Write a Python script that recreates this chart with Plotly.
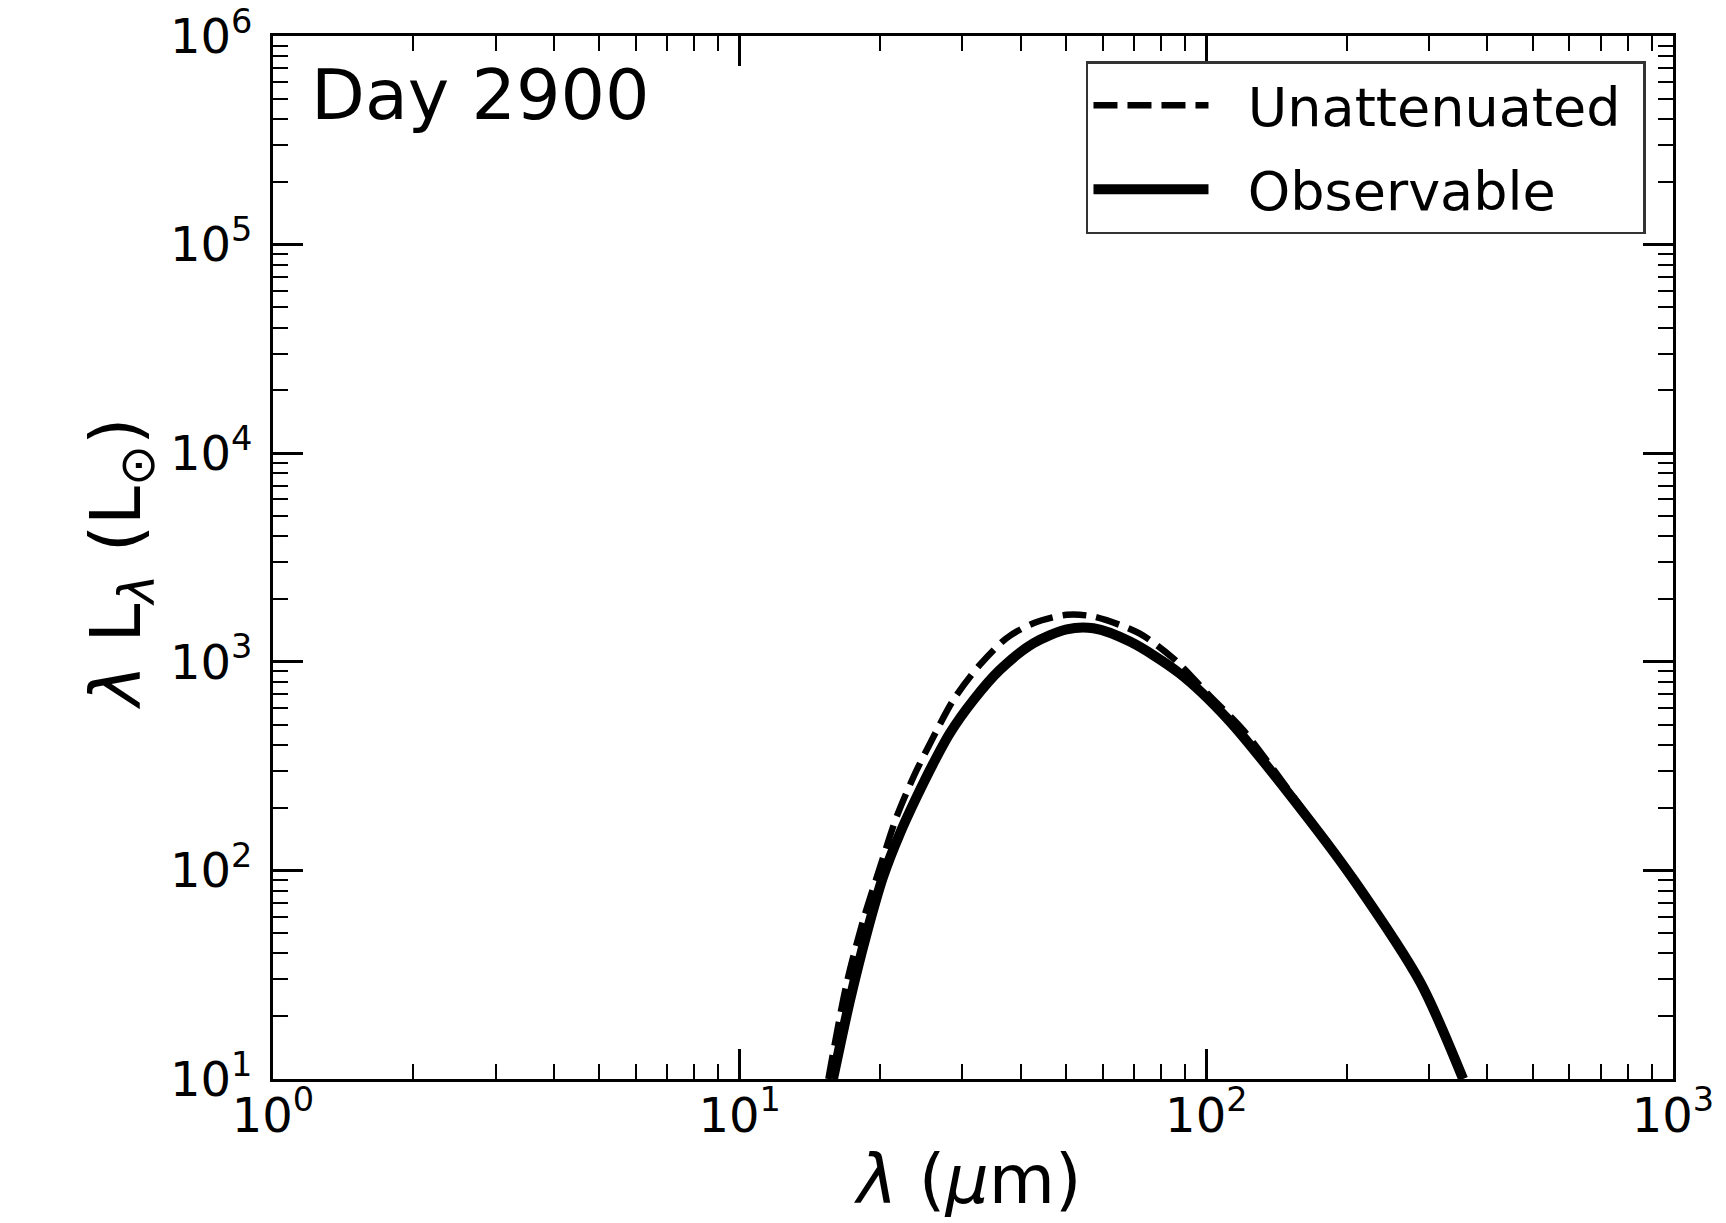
import plotly.graph_objects as go

# Observable (solid) curve
obs_x = [15.85, 17.24, 18.72, 20.3, 22.06, 23.95, 26.0, 28.2, 31.7, 36.1, 42.6, 50.2, 57.3, 68.6, 87.5, 111.6, 162, 207, 288, 355]
obs_y = [10, 23.9, 49.9, 93.3, 150.7, 225, 326, 454, 656, 914, 1227, 1432, 1448, 1250, 883, 526, 188, 90, 28.8, 10]

# Unattenuated (dashed) curve
una_x = [15.49, 16.96, 18.4, 20.0, 21.7, 23.6, 25.6, 28.7, 32.7, 37.3, 42.6, 50.2, 57.3, 71.7, 85.7, 102, 120, 162, 207, 288, 357]
una_y = [10, 28.8, 57.8, 104, 181, 282, 407, 656, 966, 1297, 1531, 1679, 1648, 1371, 1021, 681, 470, 192, 92, 29.2, 10]

x_tickvals = [1, 10, 100, 1000]
x_ticktext = ["10<sup>0</sup>", "10<sup>1</sup>", "10<sup>2</sup>", "10<sup>3</sup>"]
y_tickvals = [10, 100, 1000, 1e4, 1e5, 1e6]
y_ticktext = ["10<sup>1</sup>", "10<sup>2</sup>", "10<sup>3</sup>", "10<sup>4</sup>", "10<sup>5</sup>", "10<sup>6</sup>"]

label_text = "Day 2900"
font = "DejaVu Sans"

fig = go.Figure()
fig.add_trace(go.Scatter(x=una_x, y=una_y, mode="lines", name="\u00a0\u00a0Unattenuated\u00a0", legendgroup="a",
                         line=dict(color="black", width=6.5, dash="24px,10px", shape="spline", smoothing=0.8)))
fig.add_trace(go.Scatter(x=obs_x, y=obs_y, mode="lines", name="\u00a0\u00a0Observable", legendgroup="b",
                         line=dict(color="black", width=10, shape="spline", smoothing=0.8)))

axis_common = dict(
    type="log", showgrid=False, zeroline=False, automargin=False,
    showline=True, linecolor="black", linewidth=3, mirror="allticks",
    ticks="inside", ticklen=30, tickwidth=2.5, tickcolor="black",
    tickfont=dict(family=font, size=48, color="black"),
    minor=dict(ticks="inside", ticklen=15, tickwidth=2, tickcolor="black", dtick="D1", showgrid=False),
)

fig.update_xaxes(range=[0, 3], tickvals=x_tickvals, ticktext=x_ticktext, ticklabelstandoff=-8, **axis_common)
fig.update_yaxes(range=[1, 6], tickvals=y_tickvals, ticktext=y_ticktext, ticklabelstandoff=8, **axis_common)

# axis titles
fig.add_annotation(text="<i>λ</i> (<i>μ</i>m)", xref="paper", yref="paper", x=0.496, y=-0.096,
                   xanchor="center", yanchor="middle", showarrow=False,
                   font=dict(family=font, size=68, color="black"))
fig.add_annotation(text="<i>λ</i> L<sub><i>λ</i></sub> (L<sub>⊙</sub>)", xref="paper", yref="paper",
                   x=-0.109, y=0.494, xanchor="center", yanchor="middle", textangle=-90, showarrow=False,
                   font=dict(family=font, size=70, color="black"))

fig.add_annotation(text=label_text, xref="paper", yref="paper", x=0.026, y=0.943,
                   xanchor="left", yanchor="middle", showarrow=False,
                   font=dict(family=font, size=70, color="black"))

fig.update_layout(
    width=1726, height=1223,
    margin=dict(l=273, r=53, t=36, b=144),
    plot_bgcolor="white", paper_bgcolor="white",
    font=dict(family=font, color="black"),
    showlegend=True,
    legend=dict(x=0.9807, y=0.976, xanchor="right", yanchor="top",
                bgcolor="white", bordercolor="#333333", borderwidth=2.5,
                font=dict(family=font, size=54, color="black"),
                itemwidth=115, tracegroupgap=11),
)

fig.write_html("out.html", config={"displayModeBar": False},
               post_script="document.body.style.margin='0px';document.body.style.padding='0px';")
